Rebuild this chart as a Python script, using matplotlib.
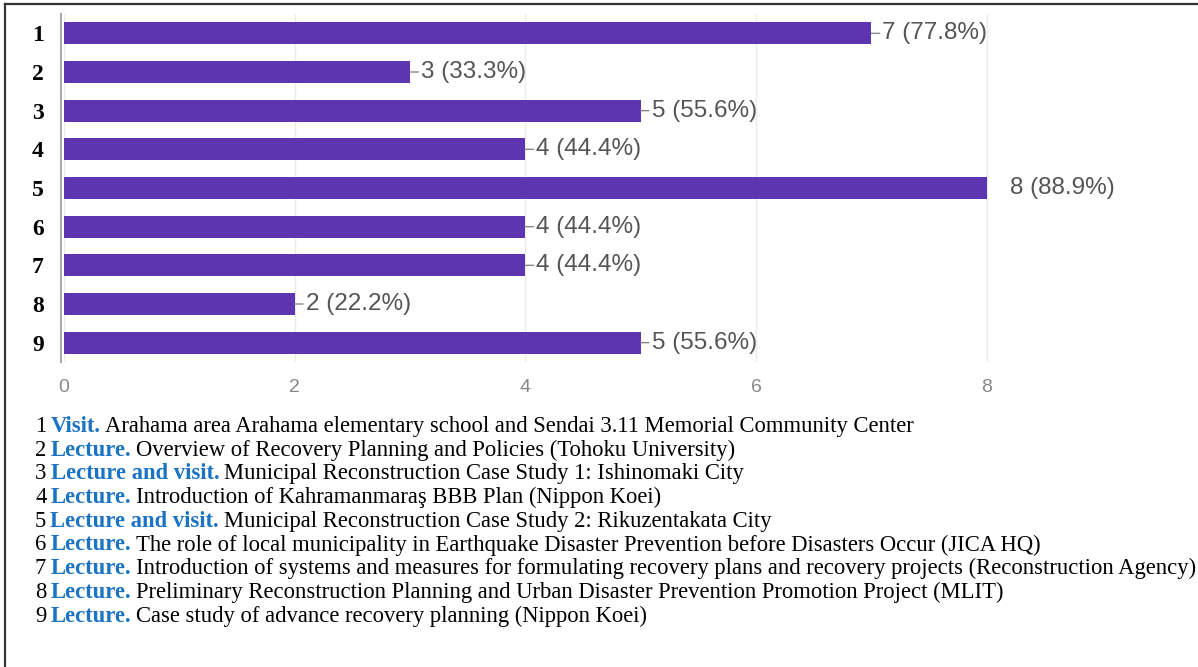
import matplotlib.pyplot as plt
from matplotlib.lines import Line2D

# ── Data ──────────────────────────────────────────────────────────────────────
items = ["1", "2", "3", "4", "5", "6", "7", "8", "9"]
counts = [7, 3, 5, 4, 8, 4, 4, 2, 5]
percents = [77.8, 33.3, 55.6, 44.4, 88.9, 44.4, 44.4, 22.2, 55.6]
x_ticks = [0, 2, 4, 6, 8]

kinds = ["Visit.", "Lecture.", "Lecture and visit.", "Lecture.", "Lecture and visit.",
         "Lecture.", "Lecture.", "Lecture.", "Lecture."]
descriptions = [
    "Arahama area Arahama elementary school and Sendai 3.11 Memorial Community Center",
    "Overview of Recovery Planning and Policies (Tohoku University)",
    "Municipal Reconstruction Case Study 1: Ishinomaki City",
    "Introduction of Kahramanmaraş BBB Plan (Nippon Koei)",
    "Municipal Reconstruction Case Study 2: Rikuzentakata City",
    "The role of local municipality in Earthquake Disaster Prevention before Disasters Occur (JICA HQ)",
    "Introduction of systems and measures for formulating recovery plans and recovery projects (Reconstruction Agency)",
    "Preliminary Reconstruction Planning and Urban Disaster Prevention Promotion Project (MLIT)",
    "Case study of advance recovery planning (Nippon Koei)",
]

BAR = "#5e35b1"
BLUE = "#1a73c4"
GREY = "#555555"
W, H = 1198, 667

fig = plt.figure(figsize=(W / 100, H / 100), dpi=100)
ax = fig.add_axes([64 / W, 1 - 362 / H, 1038 / W, 348 / H])

# spine position first: it resets the tick labels
for s in ["top", "right", "bottom"]:
    ax.spines[s].set_visible(False)
ax.spines["left"].set_position(("data", -0.03))
ax.spines["left"].set_color("#aaaaaa")
ax.spines["left"].set_linewidth(1.5)

ypos = list(range(1, len(items) + 1))
ax.barh(ypos, counts, height=0.57, color=BAR, zorder=3)

ax.set_xlim(0, 9)
ax.set_ylim(9.5, 0.5)
ax.set_xticks(x_ticks)
ax.set_xticklabels([str(t) for t in x_ticks], fontsize=14, color="#888888",
                   family="Liberation Sans")
ax.set_yticks(ypos)
ax.set_yticklabels(items, fontsize=17, fontweight="bold", family="Liberation Serif")
ax.tick_params(axis="x", length=0, pad=12)
ax.tick_params(axis="y", length=0, pad=12)
ax.grid(axis="x", color="#ebebeb", linewidth=1, zorder=0)

# value labels with short leader lines
top = max(counts)
for y, c, p in zip(ypos, counts, percents):
    if c == top:
        ax.annotate(f"{c} ({p}%)", xy=(c, y), xytext=(17, 0), textcoords="offset points",
                    va="center", ha="left", fontsize=17.5, color=GREY, family="Liberation Sans")
    else:
        ax.annotate(f"{c} ({p}%)", xy=(c, y), xytext=(8, 0), textcoords="offset points",
                    va="center", ha="left", fontsize=17.5, color=GREY, family="Liberation Sans",
                    arrowprops=dict(arrowstyle="-", color="#888888", lw=1,
                                    shrinkA=0, shrinkB=0))

# legend text block under the chart
y0 = 432
step = 23.7
for i, (num, kind, desc) in enumerate(zip(items, kinds, descriptions)):
    yb = 1 - (y0 + i * step) / H
    t1 = fig.text(35 / W, yb, num, fontsize=16.3, family="Liberation Serif",
                  va="baseline", ha="left", color="black")
    t2 = ax.annotate(kind, xy=(1, 0), xycoords=t1, xytext=(3, 0),
                     textcoords="offset points", va="bottom", ha="left",
                     fontsize=16.3, family="Liberation Serif", fontweight="bold",
                     color=BLUE, annotation_clip=False)
    ax.annotate(desc, xy=(1, 0), xycoords=t2, xytext=(3.5, 0),
                textcoords="offset points", va="bottom", ha="left",
                fontsize=16.3, family="Liberation Serif", color="black",
                annotation_clip=False)

# frame lines (left and top)
fig.add_artist(Line2D([5 / W, 5 / W], [0, 1 - 4 / H], color="#333333", lw=1.6))
fig.add_artist(Line2D([5 / W, 1], [1 - 4 / H, 1 - 4 / H], color="#333333", lw=1.6))

fig.savefig("out.png", dpi=100)
